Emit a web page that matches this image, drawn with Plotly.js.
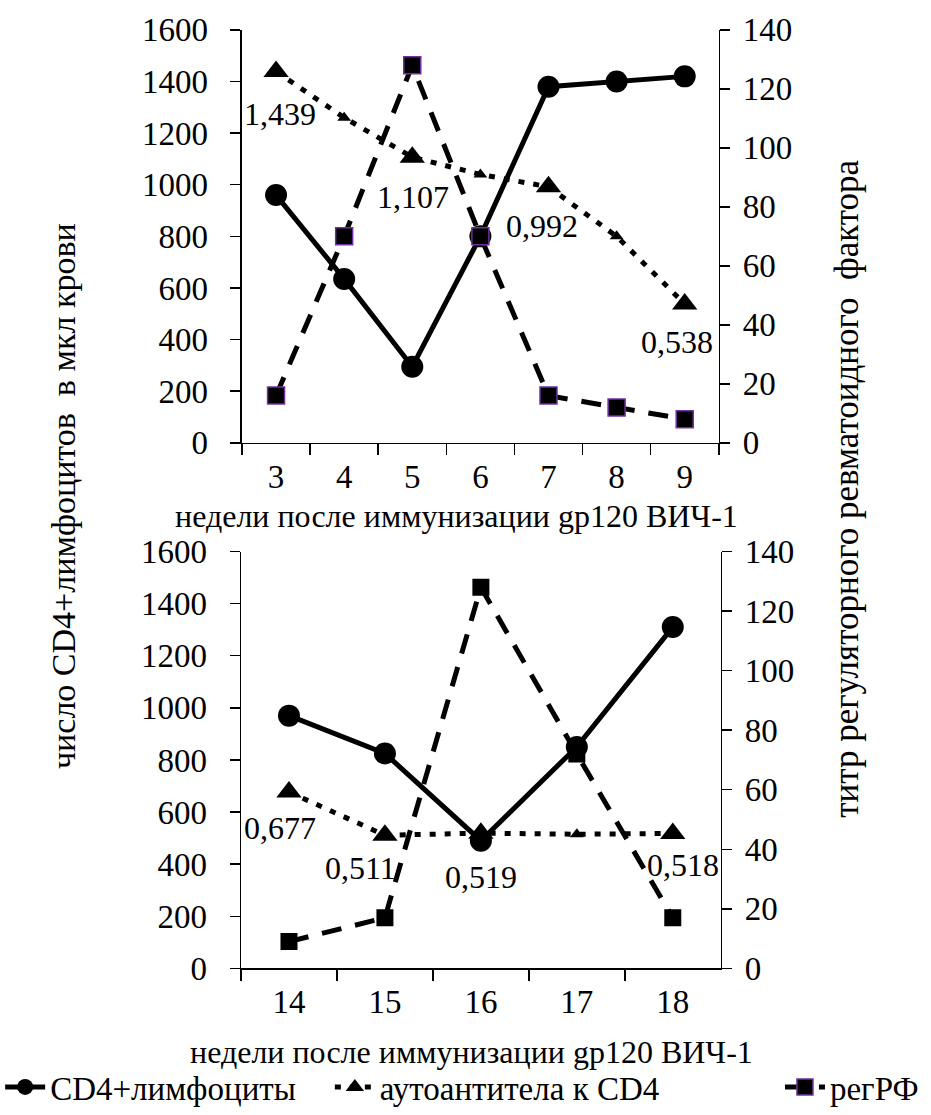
<!DOCTYPE html>
<html>
<head>
<meta charset="utf-8">
<script src="https://cdn.plot.ly/plotly-3.0.1.min.js"></script>
<style>
  html, body { margin: 0; padding: 0; background: #fff; }
  #chart { width: 931px; height: 1115px; }
</style>
</head>
<body>
<div id="chart"></div>
<script>
// Weeks after gp120 HIV-1 immunisation
const weeksTop = ['3', '4', '5', '6', '7', '8', '9'];
const weeksBottom = ['14', '15', '16', '17', '18'];

// CD4+ lymphocytes per µl of blood
const cd4Top = [960, 635, 295, 800, 1380, 1400, 1420];
const cd4Bottom = [970, 825, 490, 850, 1310];

// Autoantibodies to CD4 (optical density)
const autoTop = [1.439, 1.26, 1.107, 1.04, 0.992, 0.80, 0.538];
const autoBottom = [0.677, 0.511, 0.519, 0.515, 0.518];
const autoTopLabelled = [true, false, true, false, true, false, true];
const autoBottomLabelled = [true, true, true, false, true];

// Regulatory rheumatoid factor titre
const rfTop = [16, 70, 128, 70, 16, 12, 8];
const rfBottom = [9, 17, 128, 72, 17];

const FONT = 'Liberation Serif, Times New Roman, serif';
const BLACK = '#000000';
const PURPLE = '#7030A0';
const DOTS = '6px,9px';
const DASHES = '20px,14px';

// the autoantibody series shares the left scale (OD × 1000)
const odScale = 1000;

function autoSizes(flags) { return flags.map(f => f ? 22 : 12); }
function fmt(v) { return v.toFixed(3).replace('.', ','); }

const triMarker = flags => ({
  symbol: 'triangle-up', size: autoSizes(flags), color: BLACK,
  opacity: 1, line: { width: 0, color: BLACK }
});

const traces = [
  // ---- top panel ----
  {
    x: weeksTop, y: cd4Top, xaxis: 'x', yaxis: 'y',
    name: 'CD4+лимфоциты', legend: 'legend',
    mode: 'lines+markers',
    line: { color: BLACK, width: 5 },
    marker: { symbol: 'circle', size: 22, color: BLACK }
  },
  {
    x: weeksTop, y: autoTop.map(v => v * odScale), xaxis: 'x', yaxis: 'y',
    name: 'аутоантитела к CD4', legend: 'legend2',
    mode: 'lines+markers',
    line: { color: BLACK, width: 5, dash: DOTS },
    marker: triMarker(autoTopLabelled)
  },
  {
    x: weeksTop, y: rfTop, xaxis: 'x', yaxis: 'y2',
    name: 'регРФ', legend: 'legend3',
    mode: 'lines+markers',
    line: { color: BLACK, width: 5, dash: DASHES },
    marker: { symbol: 'square', size: 17, color: BLACK, line: { color: PURPLE, width: 1.5 } }
  },
  // ---- bottom panel ----
  {
    x: weeksBottom, y: cd4Bottom, xaxis: 'x2', yaxis: 'y3',
    showlegend: false, mode: 'lines+markers',
    line: { color: BLACK, width: 5 },
    marker: { symbol: 'circle', size: 22, color: BLACK }
  },
  {
    x: weeksBottom, y: autoBottom.map(v => v * odScale), xaxis: 'x2', yaxis: 'y3',
    showlegend: false, mode: 'lines+markers',
    line: { color: BLACK, width: 5, dash: DOTS },
    marker: triMarker(autoBottomLabelled)
  },
  {
    x: weeksBottom, y: rfBottom, xaxis: 'x2', yaxis: 'y4',
    showlegend: false, mode: 'lines+markers',
    line: { color: BLACK, width: 5, dash: DASHES },
    marker: { symbol: 'square', size: 17, color: BLACK }
  }
];

// value labels under the autoantibody points (x given as category index)
const topShift = [[4, -43], null, [1, -40], null, [-6, -39], null, [-8, -38]];
const botShift = [[-9, -36], [-24, -33], [0, -44], null, [10, -32]];
const annotations = [];
function addLabels(values, flags, shifts, xref, yref) {
  values.forEach((v, i) => {
    if (!flags[i]) return;
    annotations.push({
      x: i, y: v * odScale, xref: xref, yref: yref,
      text: fmt(v), showarrow: false,
      xanchor: 'center', yanchor: 'middle',
      xshift: shifts[i][0], yshift: shifts[i][1],
      font: { family: FONT, size: 32, color: BLACK }
    });
  });
}
addLabels(autoTop, autoTopLabelled, topShift, 'x', 'y');
addLabels(autoBottom, autoBottomLabelled, botShift, 'x2', 'y3');

const W = 931, H = 1115;
const xTitle = 'недели после иммунизации gp120 ВИЧ-1';
function paperText(text, px, py, angle, size) {
  return {
    text: text, xref: 'paper', yref: 'paper', x: px / W, y: 1 - py / H,
    xanchor: 'center', yanchor: 'middle', textangle: angle || 0,
    showarrow: false, font: { family: FONT, size: size, color: BLACK }
  };
}
annotations.push(
  paperText(xTitle, 450, 517, 0, 32),
  paperText(xTitle, 466, 1055, 0, 32),
  paperText('число CD4+лимфоцитов  в мкл крови', 52, 497, -90, 34),
  paperText('титр регуляторного ревматоидного  фактора', 846, 490, -90, 35)
);

const tickFont = { family: FONT, size: 33, color: BLACK };

function xAxis(left, right, anchor, n) {
  return {
    type: 'category', domain: [left / W, right / W], anchor: anchor,
    range: [-0.5, n - 0.5], autorange: false,
    showgrid: false, zeroline: false,
    showline: true, linecolor: BLACK, linewidth: 1.5,
    ticks: 'outside', tickson: 'boundaries', ticklen: 11, tickwidth: 1.5, tickcolor: BLACK,
    tickangle: 0, tickfont: tickFont, ticklabelstandoff: 4, fixedrange: true
  };
}
function leftAxis(top, bottom, anchor) {
  return {
    domain: [1 - bottom / H, 1 - top / H], anchor: anchor, range: [0, 1600],
    tickvals: [0, 200, 400, 600, 800, 1000, 1200, 1400, 1600],
    showgrid: false, zeroline: false,
    showline: true, linecolor: BLACK, linewidth: 1.5,
    ticks: 'outside', ticklen: 10, tickwidth: 1.5, tickcolor: BLACK,
    tickfont: tickFont, ticklabelstandoff: 16, fixedrange: true
  };
}
function rightAxis(over, anchor, labels) {
  return {
    overlaying: over, anchor: anchor, side: 'right', range: [0, 140],
    tickvals: [0, 20, 40, 60, 80, 100, 120, 140],
    showgrid: false, zeroline: false,
    showline: labels, linecolor: BLACK, linewidth: 1.5,
    ticks: labels ? 'outside' : 'inside', ticklen: 10, tickwidth: 1.5, tickcolor: BLACK,
    showticklabels: labels,
    tickfont: tickFont, ticklabelstandoff: 6, fixedrange: true
  };
}

function legendAt(px) {
  return {
    x: px / W, y: 1 - 1090 / H, xanchor: 'left', yanchor: 'middle',
    orientation: 'h', itemwidth: 40, bgcolor: 'rgba(0,0,0,0)',
    font: { family: FONT, size: 33, color: BLACK }
  };
}

const layout = {
  width: W, height: H,
  margin: { l: 0, r: 0, t: 0, b: 0 },
  paper_bgcolor: '#ffffff', plot_bgcolor: '#ffffff',
  font: { family: FONT, color: BLACK },
  showlegend: true,
  xaxis: xAxis(233, 716, 'y', weeksTop.length),
  yaxis: leftAxis(30, 444, 'x'),
  yaxis2: rightAxis('y', 'x', true),
  yaxis5: rightAxis('y', 'x', false),
  xaxis2: xAxis(232, 718, 'y3', weeksBottom.length),
  yaxis3: leftAxis(553, 971, 'x2'),
  yaxis4: rightAxis('y3', 'x2', true),
  yaxis6: rightAxis('y3', 'x2', false),
  legend: legendAt(-12),
  legend2: legendAt(322),
  legend3: legendAt(778),
  annotations: annotations
};

Plotly.newPlot('chart', traces, layout, { staticPlot: true, displayModeBar: false });
</script>
</body>
</html>
